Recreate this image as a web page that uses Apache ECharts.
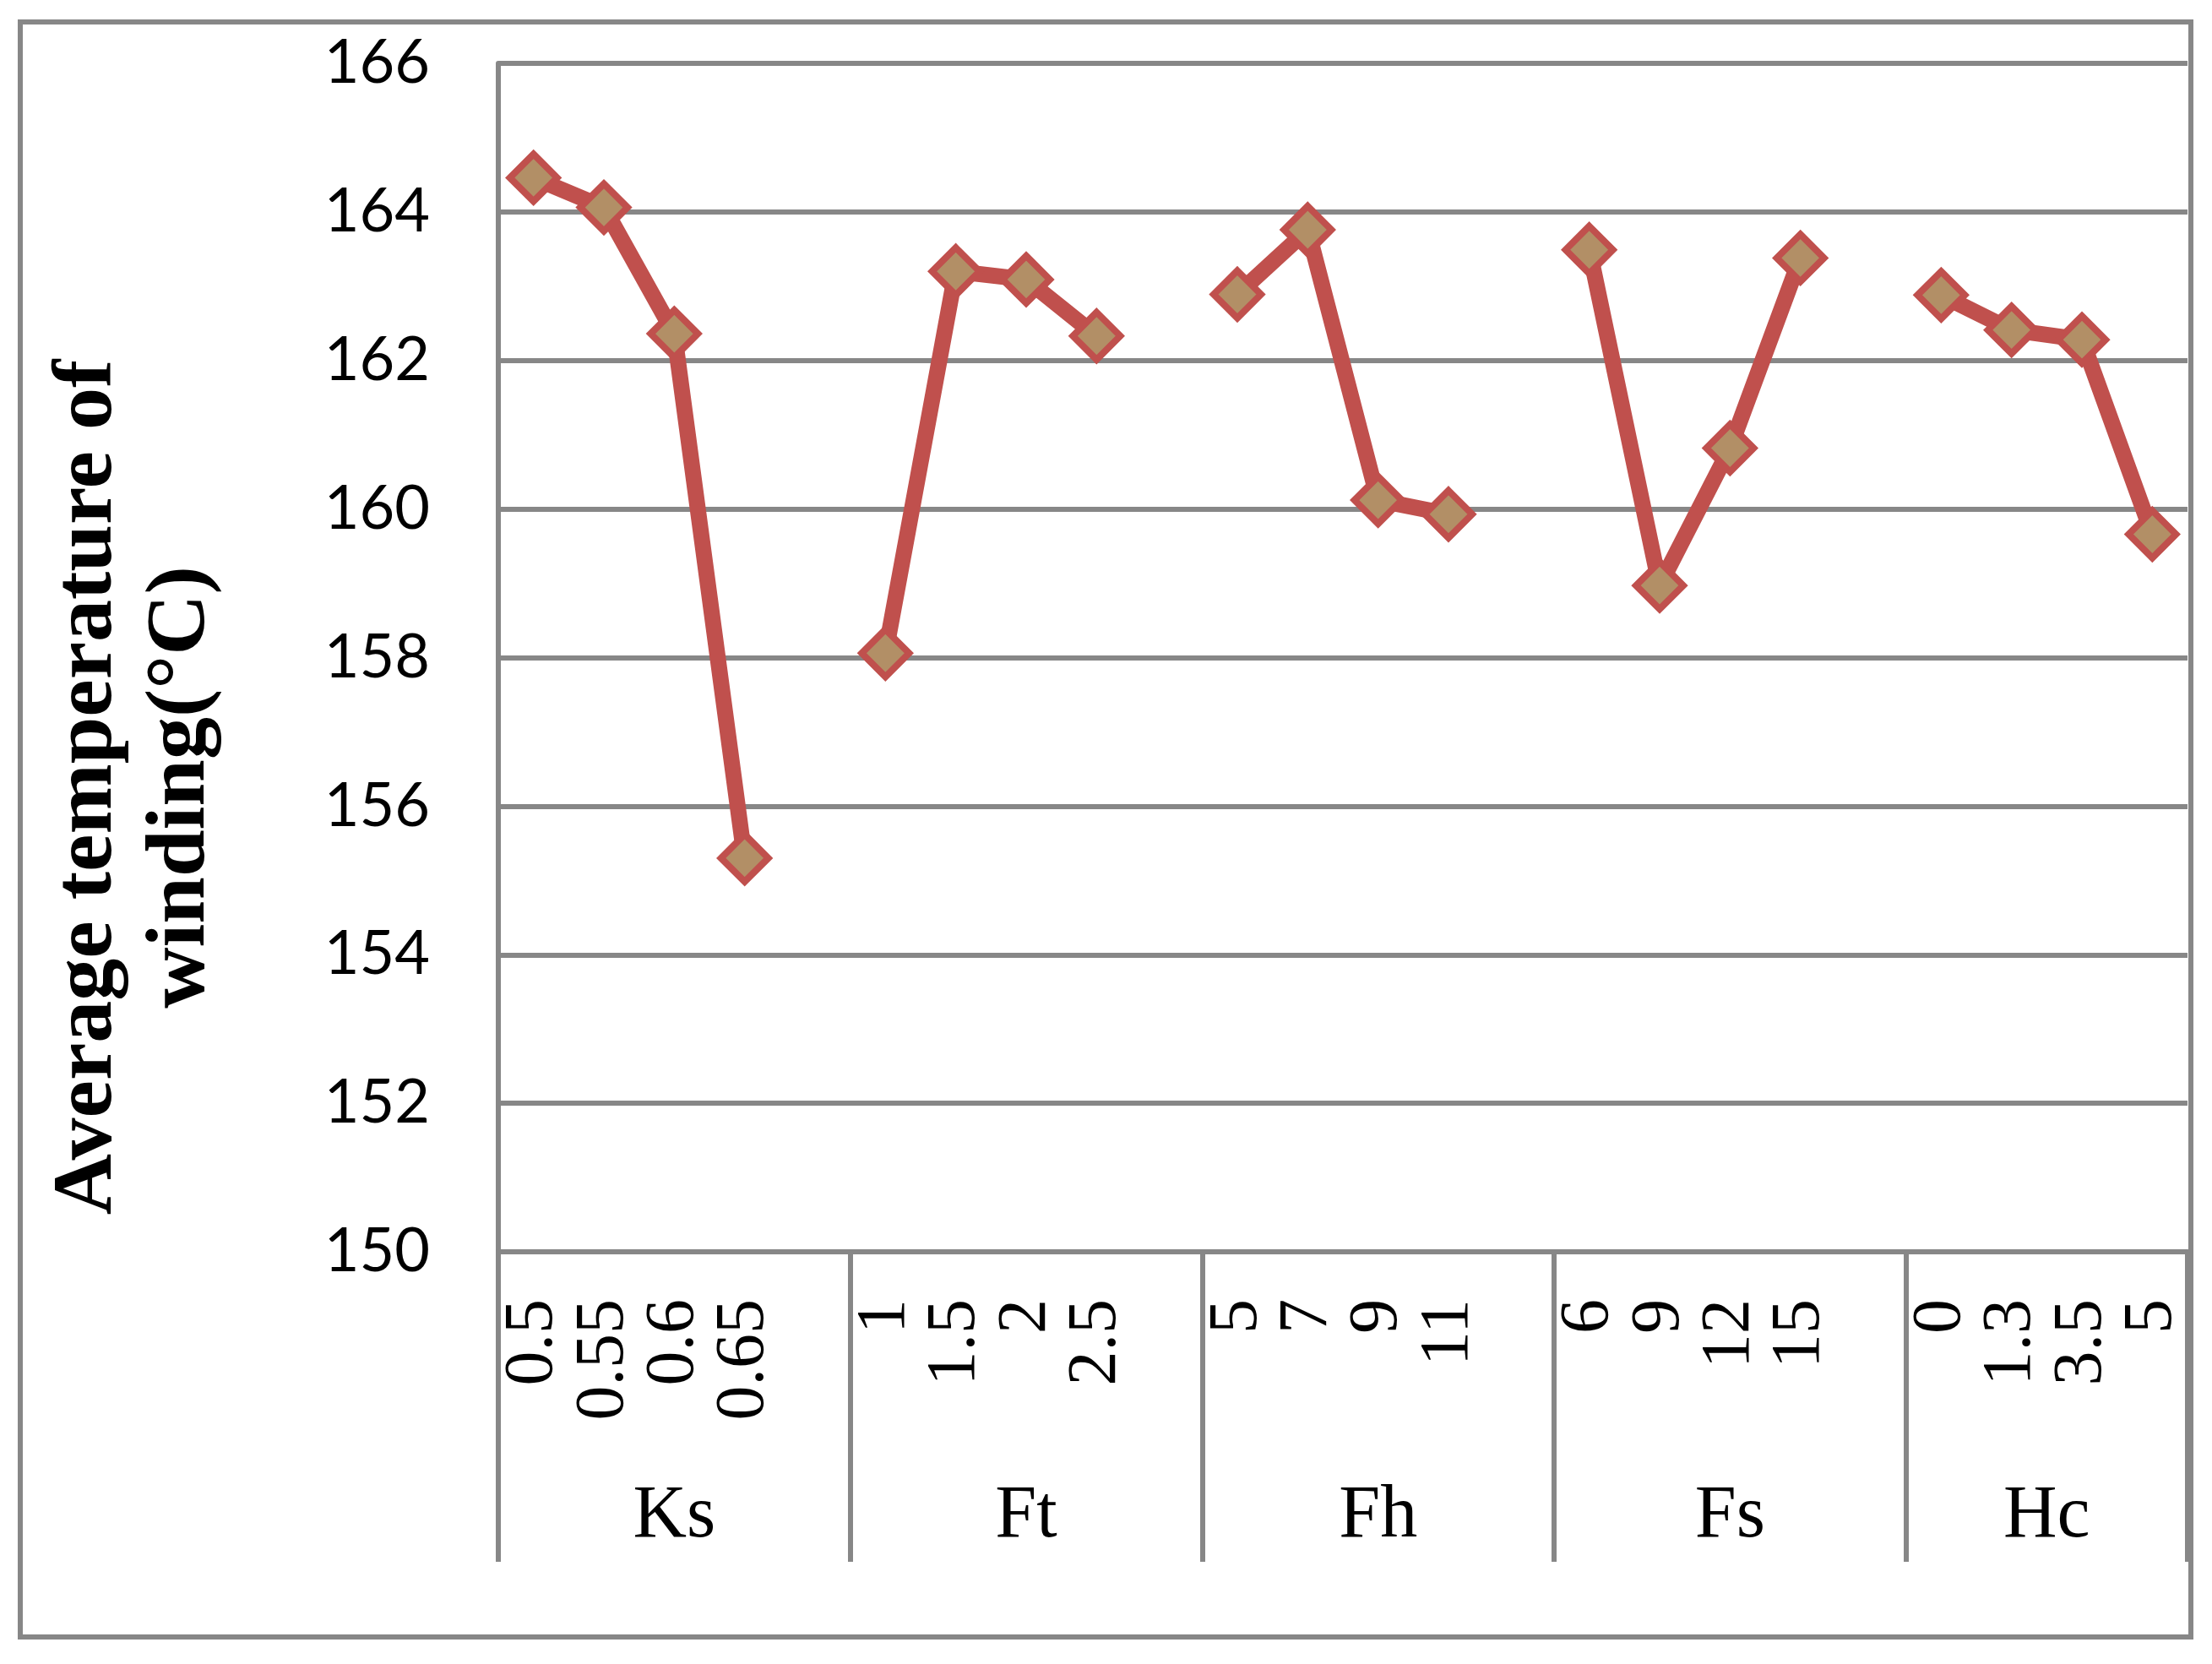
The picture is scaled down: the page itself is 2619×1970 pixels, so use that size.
<!DOCTYPE html>
<html>
<head>
<meta charset="utf-8">
<script src="https://cdn.jsdelivr.net/npm/echarts@6/dist/echarts.min.js"></script>
<style>
  html, body { margin: 0; padding: 0; background: #ffffff; }
  #chart { width: 2619px; height: 1970px; }
</style>
</head>
<body>
<div id="chart"></div>
<script>
// ---- data ----
const groupNames = ['Ks', 'Ft', 'Fh', 'Fs', 'Hc'];
const ksLevels = ['0.5', '0.55', '0.6', '0.65'];
const ftLevels = ['1', '1.5', '2', '2.5'];
const fhLevels = ['5', '7', '9', '11'];
const fsLevels = ['6', '9', '12', '15'];
const hcLevels = ['0', '1.3', '3.5', '5'];
const ksValues = [164.46, 164.06, 162.36, 155.30];
const ftValues = [158.06, 163.20, 163.09, 162.33];
const fhValues = [162.89, 163.76, 160.12, 159.93];
const fsValues = [163.49, 158.97, 160.82, 163.38];
const hcValues = [162.88, 162.41, 162.28, 159.66];
const yMin = 150, yMax = 166, yStep = 2;
const yTitle = 'Average temperature of\nwinding(°C)';

// ---- build category axis (a blank slot separates the groups) ----
const levelLists = [ksLevels, ftLevels, fhLevels, fsLevels, hcLevels];
const valueLists = [ksValues, ftValues, fhValues, fsValues, hcValues];
const categories = [];
const seriesData = [];
const groupStarts = [];
levelLists.forEach(function (lv, g) {
  groupStarts.push(categories.length);
  lv.forEach(function (c, i) { categories.push(c); seriesData.push(valueLists[g][i]); });
  if (g < levelLists.length - 1) { categories.push(''); seriesData.push(null); }
});
const total = categories.length;
const groupCenters = {};
groupStarts.forEach(function (s, g) {
  const e = g < groupStarts.length - 1 ? groupStarts[g + 1] : total;
  groupCenters[((s + e) / 2).toFixed(1)] = groupNames[g];
});

const gray = '#878787';
const chart = echarts.init(document.getElementById('chart'), null, { renderer: 'canvas' });
chart.setOption({
  backgroundColor: '#ffffff',
  animation: false,
  grid: { left: 590, right: 29, top: 75, bottom: 488, containLabel: false },
  xAxis: [
    {
      type: 'category',
      data: categories,
      boundaryGap: true,
      axisLine: { show: true, lineStyle: { color: gray, width: 6 } },
      axisTick: {
        show: true,
        interval: function (idx) { return groupStarts.indexOf(idx) >= 0; },
        length: 367,
        lineStyle: { color: gray, width: 6 }
      },
      axisLabel: {
        interval: 0,
        rotate: 90,
        margin: 56,
        fontFamily: 'Liberation Serif',
        fontSize: 82,
        color: '#000000'
      },
      splitLine: { show: false }
    },
    {
      type: 'value',
      position: 'bottom',
      min: 0,
      max: total,
      interval: 0.5,
      axisLine: { show: false },
      axisTick: { show: false },
      splitLine: { show: false },
      axisLabel: {
        margin: 270,
        fontFamily: 'Liberation Serif',
        fontSize: 88,
        lineHeight: 88,
        color: '#000000',
        showMinLabel: true,
        showMaxLabel: true,
        formatter: function (v) { return groupCenters[Number(v).toFixed(1)] || ''; }
      }
    }
  ],
  yAxis: {
    type: 'value',
    min: yMin,
    max: yMax,
    interval: yStep,
    axisLine: { show: true, lineStyle: { color: gray, width: 6 } },
    axisTick: { show: false },
    axisLabel: {
      margin: 81,
      fontFamily: 'Lato',
      fontSize: 72,
      color: '#000000'
    },
    splitLine: { show: true, lineStyle: { color: gray, width: 6 } }
  },
  series: [{
    type: 'line',
    xAxisIndex: 0,
    data: seriesData,
    connectNulls: false,
    symbol: 'diamond',
    symbolSize: 56,
    lineStyle: { color: '#C0504D', width: 19 },
    itemStyle: { color: '#B28F66', borderColor: '#C0504D', borderWidth: 8 },
    z: 5
  }],
  graphic: [
    {
      type: 'rect',
      shape: { x: 24, y: 26, width: 2570, height: 1912 },
      style: { fill: 'none', stroke: gray, lineWidth: 6 },
      z: 0
    },
    {
      type: 'text',
      x: 160,
      y: 932,
      rotation: Math.PI / 2,
      style: {
        text: yTitle,
        fontFamily: 'Liberation Serif',
        fontWeight: 'bold',
        fontSize: 100,
        lineHeight: 110,
        fill: '#000000',
        align: 'center',
        verticalAlign: 'middle',
        textAlign: 'center',
        textVerticalAlign: 'middle'
      }
    }
  ]
});
</script>
</body>
</html>
